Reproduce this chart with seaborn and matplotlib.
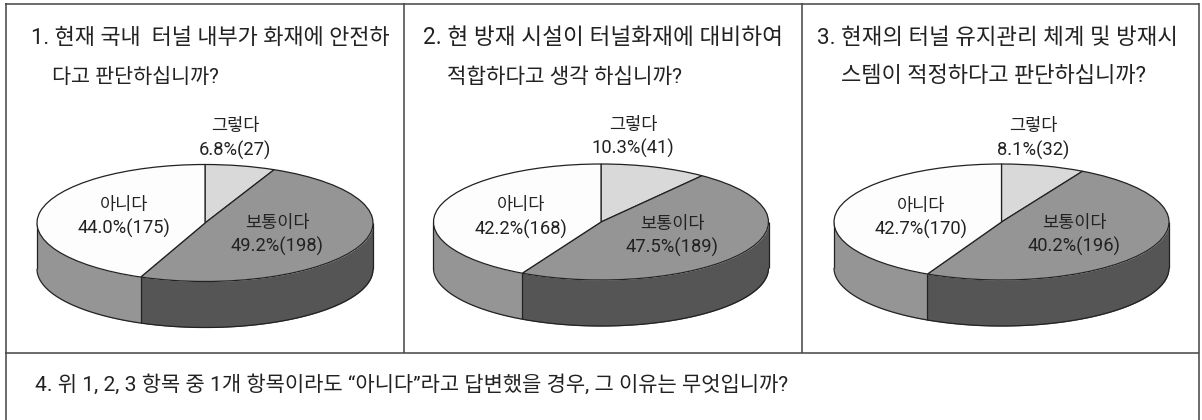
import numpy as np
import matplotlib
matplotlib.use("Agg")
import matplotlib.pyplot as plt
import seaborn as sns

sns.set_theme(style="white")
plt.rcParams['font.family'] = ['Roboto', 'Noto Sans CJK KR', 'DejaVu Sans']

W, H = 1202, 420

# survey responses per question
answers = ["그렇다", "보통이다", "아니다"]
counts_q1 = [27, 198, 175]
counts_q2 = [41, 189, 168]
counts_q3 = [32, 196, 170]
pct_q1 = ["6.8%(27)", "49.2%(198)", "44.0%(175)"]
pct_q2 = ["10.3%(41)", "47.5%(189)", "42.2%(168)"]
pct_q3 = ["8.1%(32)", "40.2%(196)", "42.7%(170)"]

title_q1 = ["1. 현재 국내  터널 내부가 화재에 안전하", "다고 판단하십니까?"]
title_q2 = ["2. 현 방재 시설이 터널화재에 대비하여", "적합하다고 생각 하십니까?"]
title_q3 = ["3. 현재의 터널 유지관리 체계 및 방재시", "스템이 적정하다고 판단하십니까?"]
footer = "4. 위 1, 2, 3 항목 중 1개 항목이라도 “아니다”라고 답변했을 경우, 그 이유는 무엇입니까?"

top_colors = ["#d9d9d9", "#959595", "#fdfdfd"]
wall_right = "#555555"
wall_left = "#959595"
edge = "#222222"

fig = plt.figure(figsize=(W / 100, H / 100), dpi=100, facecolor="white")

# page-sized layer in pixel units for the table rules and captions
page = fig.add_axes([0, 0, 1, 1], zorder=5)
page.set_xlim(0, W)
page.set_ylim(H, 0)
page.axis("off")
page.patch.set_alpha(0)

rule = dict(color="#444444", lw=1.1, solid_capstyle="butt")
page.plot([5, 1199], [3.5, 3.5], **rule)
page.plot([5, 1199], [353, 353], **rule)
page.plot([5.5, 5.5], [3, 420], **rule)
page.plot([1199, 1199], [3, 420], **rule)
page.plot([403.5, 403.5], [3, 353], **rule)
page.plot([802, 802], [3, 353], **rule)


def draw_pie(cx, cy, rx, ry, depth, counts):
    """Tilted pie: an elliptical ax.pie on top of a wall below its front half."""
    pad = 6
    left = cx - rx - pad
    bottom = cy + ry + depth + pad
    width = 2 * (rx + pad)
    height = 2 * ry + depth + 2 * pad
    ax = fig.add_axes([left / W, 1 - bottom / H, width / W, height / H])
    ax.pie(counts, colors=top_colors, startangle=90, counterclock=False, radius=1,
           wedgeprops=dict(edgecolor=edge, linewidth=0.9), normalize=True)
    ax.set_aspect("auto")
    ax.set_xlim(-(rx + pad) / rx, (rx + pad) / rx)
    ax.set_ylim(-1 - (depth + pad) / ry, 1 + pad / ry)

    d = depth / ry
    # the screen angle where the last wedge starts, going clockwise from 12 o'clock
    split = np.pi / 2 - 2 * np.pi * (counts[0] + counts[1]) / sum(counts)
    split = split % (2 * np.pi)
    left_arc = np.linspace(np.pi, split, 60)
    right_arc = np.linspace(split, 2 * np.pi, 120)
    outline = dict(color=edge, lw=0.9, zorder=0.6, solid_capstyle="butt")
    for arc, colour in ((left_arc, wall_left), (right_arc, wall_right)):
        x, y = np.cos(arc), np.sin(arc)
        ax.fill_between(x, y - d, y, color=colour, lw=0, zorder=0.5)
        ax.plot(x, y - d, **outline)
    for a in (np.pi, split, 2 * np.pi):
        ax.plot([np.cos(a)] * 2, [np.sin(a), np.sin(a) - d], **outline)
    ax.axis("off")
    return ax


draw_pie(205, 223, 168, 58.5, 46, counts_q1)
draw_pie(601, 222, 167.5, 58, 46, counts_q2)
draw_pie(1001.5, 222, 167.5, 58, 46, counts_q3)


def caption(x, y, s, size=13.2, ha="left"):
    page.text(x, y, s, fontsize=size, ha=ha, va="center", color="#222222")


# each heading line has its own size so it fills the same width in its cell
heading_rows = (
    (title_q1, (31, 52), (15.8, 14.9)),
    (title_q2, (423, 447), (16.3, 15.3)),
    (title_q3, (817, 841), (16.1, 15.9)),
)
for lines, (x1, x2), (s1, s2) in heading_rows:
    caption(x1, 38, lines[0], size=s1)
    caption(x2, 77, lines[1], size=s2)
caption(35, 385, footer, size=15.1)

name_size = 12.6
pct_size = 13.2
spots = (
    (pct_q1, [(235, 126, 150), (277, 223, 246), (124, 205, 228)]),
    (pct_q2, [(633, 125, 148), (672, 224, 247), (521, 205, 229)]),
    (pct_q3, [(1033, 126, 150), (1074, 223, 246), (921, 206, 229)]),
)
for pcts, where in spots:
    for name, pct, (x, y1, y2) in zip(answers, pcts, where):
        caption(x, y1, name, size=name_size, ha="center")
        caption(x, y2, pct, size=pct_size, ha="center")

fig.savefig("out.png", dpi=100)
